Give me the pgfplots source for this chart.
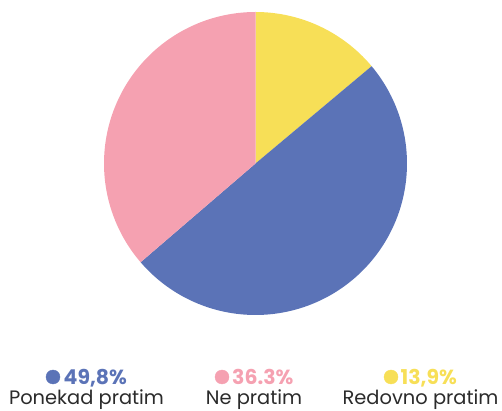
\documentclass[border=0pt]{standalone}
\usepackage{fontspec}
\setmainfont{Poppins}
\usepackage{pgfplots}
\pgfplotsset{compat=1.18}

\definecolor{pieblue}{HTML}{5B73B7}
\definecolor{piepink}{HTML}{F5A1B1}
\definecolor{pieyellow}{HTML}{F7DF57}
\definecolor{txt}{HTML}{2B2B2B}

% shares in percent
\def\shY{13.9}
\def\shB{49.8}
\def\shP{36.3}

\begin{document}
\begin{tikzpicture}
\pgfmathsetmacro\aA{90}
\pgfmathsetmacro\aB{90-3.6*\shY}
\pgfmathsetmacro\aC{\aB-3.6*\shB}
\pgfmathsetmacro\aD{\aC-3.6*\shP}
\begin{axis}[
  width=502bp, height=411bp, scale only axis,
  xmin=0, xmax=502, ymin=0, ymax=411,
  hide axis, clip=false,
]
  \path (axis cs:0,0) rectangle (axis cs:502,411);
  % slices, clockwise from the top
  \addplot[fill=pieyellow, draw=none, domain=\aB:\aA, samples=60, variable=\t]
    ({255.5+151.5*cos(t)},{247.5+151.5*sin(t)}) -- (axis cs:255.5,247.5) -- cycle;
  \addplot[fill=pieblue, draw=none, domain=\aC:\aB, samples=120, variable=\t]
    ({255.5+151.5*cos(t)},{247.5+151.5*sin(t)}) -- (axis cs:255.5,247.5) -- cycle;
  \addplot[fill=piepink, draw=none, domain=\aD:\aC, samples=100, variable=\t]
    ({255.5+151.5*cos(t)},{247.5+151.5*sin(t)}) -- (axis cs:255.5,247.5) -- cycle;

  % legend dots
  \addplot[only marks, mark=*, mark size=7bp, color=pieblue] coordinates {(53,34)};
  \addplot[only marks, mark=*, mark size=7bp, color=piepink] coordinates {(222,34)};
  \addplot[only marks, mark=*, mark size=7bp, color=pieyellow] coordinates {(391,34)};

  \node[anchor=base west, inner sep=0, text=pieblue, font=\fontsize{20.5}{24}\selectfont\bfseries] at (axis cs:63.5,26) {49,8\%};
  \node[anchor=base west, inner sep=0, text=piepink, font=\fontsize{20.5}{24}\selectfont\bfseries] at (axis cs:232,26) {36.3\%};
  \node[anchor=base west, inner sep=0, text=pieyellow, font=\fontsize{20.5}{24}\selectfont\bfseries] at (axis cs:400.5,26) {13,9\%};

  \node[anchor=base, inner sep=0, text=txt, font=\fontsize{19.5}{23}\selectfont] at (axis cs:86.5,6) {Ponekad pratim};
  \node[anchor=base, inner sep=0, text=txt, font=\fontsize{19.5}{23}\selectfont] at (axis cs:254,6) {Ne pratim};
  \node[anchor=base, inner sep=0, text=txt, font=\fontsize{19.5}{23}\selectfont] at (axis cs:420.5,6) {Redovno pratim};
\end{axis}
\end{tikzpicture}
\end{document}
